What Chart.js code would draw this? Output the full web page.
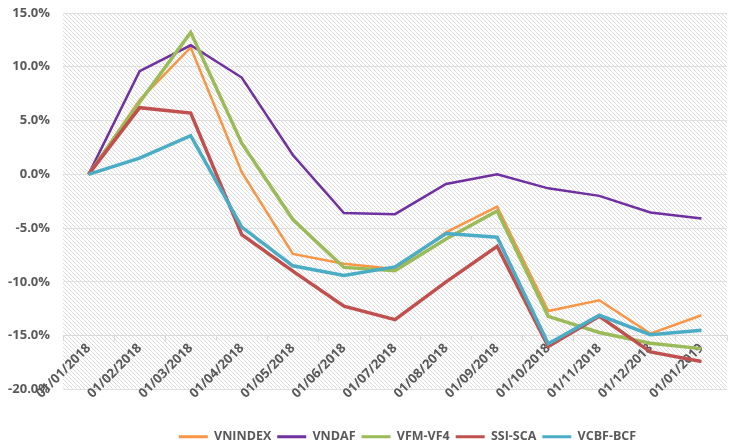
<!DOCTYPE html>
<html>
<head>
<meta charset="utf-8">
<script src="https://cdn.jsdelivr.net/npm/chart.js@4.4.1/dist/chart.umd.min.js"></script>
<style>
  body { margin: 0; background: #fff; }
</style>
</head>
<body>
<canvas id="chart" width="734" height="446"></canvas>
<script>
const dates = ['01/01/2018', '01/02/2018', '01/03/2018', '01/04/2018', '01/05/2018', '01/06/2018',
  '01/07/2018', '01/08/2018', '01/09/2018', '01/10/2018', '01/11/2018', '01/12/2018', '01/01/2019'];

// cumulative return, in percent
const vnindex = [0, 6.9, 11.8, 0.2, -7.4, -8.3, -8.8, -5.4, -3.0, -12.7, -11.7, -14.8, -13.1];
const vndaf   = [0, 9.6, 12.0, 9.0, 1.8, -3.6, -3.7, -0.9, 0.0, -1.3, -2.0, -3.55, -4.1];
const vfmVf4  = [0, 6.7, 13.2, 2.9, -4.2, -8.65, -8.95, -6.0, -3.4, -13.2, -14.7, -15.7, -16.2];
const ssiSca  = [0, 6.2, 5.7, -5.6, -9.0, -12.25, -13.5, -10.0, -6.7, -16.0, -13.2, -16.5, -17.4];
const vcbfBcf = [0, 1.5, 3.6, -4.9, -8.5, -9.4, -8.6, -5.5, -5.85, -15.75, -13.1, -14.9, -14.5];

const seriesNames = ['VNINDEX', 'VNDAF', 'VFM-VF4', 'SSI-SCA', 'VCBF-BCF'];
const seriesData = [vnindex, vndaf, vfmVf4, ssiSca, vcbfBcf];
const colors = ['#F79646', '#7030A0', '#9BBB59', '#C0504D', '#4BACC6'];
const widths = [2.5, 2.5, 3.5, 3.5, 3.5];

const grey = '#595959';
const axisFont = { family: 'Open Sans', weight: 'bold', size: 13 };
const legendFont = { family: 'Open Sans', weight: 'bold', size: 12.5 };

// diagonal hatch behind the plot
function hatch() {
  const c = document.createElement('canvas');
  c.width = 4; c.height = 4;
  const g = c.getContext('2d');
  g.fillStyle = '#fff';
  g.fillRect(0, 0, 4, 4);
  g.fillStyle = '#dcdcdc';
  for (let i = 0; i < 4; i++) g.fillRect(i, i, 1, 1);
  return g.createPattern(c, 'repeat');
}

const plotBg = {
  id: 'plotBg',
  beforeDraw(chart) {
    const { ctx, chartArea: a } = chart;
    ctx.save();
    ctx.fillStyle = hatch();
    ctx.fillRect(a.left, a.top, a.right - a.left, a.bottom - a.top);
    ctx.restore();
  }
};

// move the legend down into the reserved bottom space
const legendNudge = {
  id: 'legendNudge',
  afterLayout(chart) {
    const lg = chart.legend;
    lg.top += 35; lg.bottom += 35;
    lg.left += 44; lg.right += 44;
  }
};

new Chart(document.getElementById('chart'), {
  type: 'line',
  data: {
    labels: dates,
    datasets: seriesNames.map((name, i) => ({
      label: name,
      data: seriesData[i],
      borderColor: colors[i],
      backgroundColor: colors[i],
      borderWidth: widths[i],
      pointRadius: 0,
      tension: 0,
      order: seriesNames.length - i
    }))
  },
  options: {
    responsive: false,
    animation: false,
    layout: { padding: { left: 0, right: 7, top: 13, bottom: 28 } },
    scales: {
      x: {
        offset: true,
        position: { y: -15 },
        grid: { drawOnChartArea: false, offset: true, tickLength: 5, color: '#d9d9d9' },
        border: { color: '#d9d9d9' },
        ticks: { color: grey, font: axisFont, minRotation: 45, maxRotation: 45, autoSkip: false, padding: 0 }
      },
      y: {
        min: -20,
        max: 15,
        afterFit(scale) { scale.width = 63; },
        grid: { color: '#e0e0e0', tickLength: 9, tickColor: 'transparent' },
        border: { display: false },
        ticks: { stepSize: 5, color: grey, font: axisFont, padding: 4, callback: v => v.toFixed(1) + '%' }
      }
    },
    plugins: {
      tooltip: { enabled: false },
      legend: {
        position: 'bottom',
        labels: {
          color: grey,
          font: legendFont,
          boxWidth: 29,
          boxHeight: 3,
          padding: 6,
          sort: (a, b) => a.datasetIndex - b.datasetIndex,
          generateLabels(chart) {
            return Chart.defaults.plugins.legend.labels.generateLabels(chart)
              .map(l => ({ ...l, lineWidth: 0 }));
          }
        }
      }
    }
  },
  plugins: [plotBg, legendNudge]
});
</script>
</body>
</html>
